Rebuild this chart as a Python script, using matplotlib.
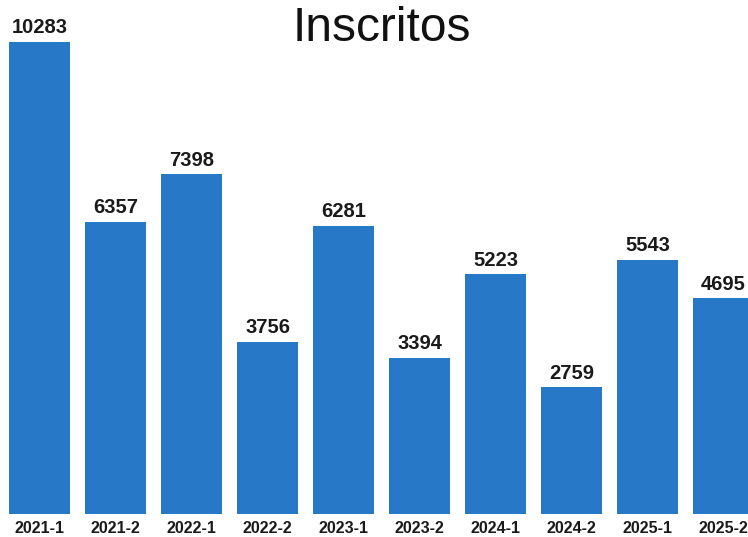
import matplotlib
matplotlib.use("Agg")
import matplotlib.pyplot as plt

BLUE = "#2878c8"
INK = "#1a1a1a"

periods = ["2021-1", "2021-2", "2022-1", "2022-2", "2023-1",
           "2023-2", "2024-1", "2024-2", "2025-1", "2025-2"]
inscritos = [10283, 6357, 7398, 3756, 6281, 3394, 5223, 2759, 5543, 4695]

plt.rcParams["font.family"] = ["Liberation Sans", "DejaVu Sans"]

fig = plt.figure(figsize=(7.48, 5.37), dpi=100)
ax = fig.add_axes([0, 23 / 537, 1, 514 / 537])

x = list(range(len(periods)))
bars = ax.bar(x, inscritos, width=0.8, color=BLUE, zorder=3)
for b, v in zip(bars, inscritos):
    ax.text(b.get_x() + b.get_width() / 2, v + 190, f"{v}",
            ha="center", va="baseline", fontsize=14.5, fontweight="bold", color=INK)

ax.set_xlim(-0.52, 9.32)
ax.set_ylim(0, 11198)
ax.set_xticks(x, periods)
ax.tick_params(axis="x", length=0, pad=5, labelsize=11.5, labelcolor=INK)
for t in ax.get_xticklabels():
    t.set_fontweight("bold")
ax.set_yticks([])
for s in ax.spines.values():
    s.set_visible(False)

fig.text(382 / 748, 1 - 41 / 537, "Inscritos", ha="center", va="baseline",
         fontsize=34.5, color="#111111")

fig.savefig("out.png", dpi=100, facecolor="white")
